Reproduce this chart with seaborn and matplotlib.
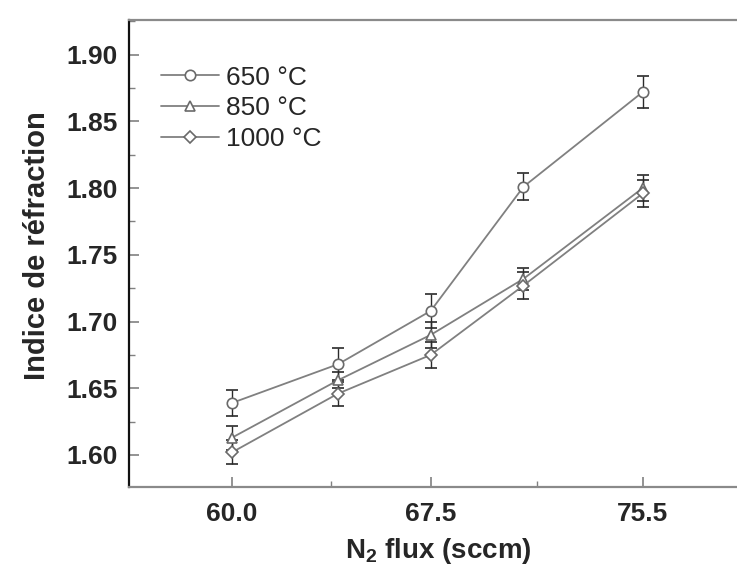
# refractive index vs N2 flux for three annealing temperatures
import matplotlib
matplotlib.use("Agg")
import matplotlib.pyplot as plt
from matplotlib.ticker import MultipleLocator, FixedLocator
import seaborn as sns

# %% data

flux_sccm = [60.0, 64.0, 67.5, 71.0, 75.5]

n_650 = [1.639, 1.668, 1.708, 1.801, 1.872]
err_650 = [0.010, 0.012, 0.013, 0.010, 0.012]

n_850 = [1.613, 1.656, 1.690, 1.732, 1.800]
err_850 = [0.009, 0.006, 0.010, 0.008, 0.010]

n_1000 = [1.602, 1.646, 1.675, 1.727, 1.796]
err_1000 = [0.009, 0.009, 0.010, 0.010, 0.010]

series_labels = ["650 °C", "850 °C", "1000 °C"]
x_ticks = [60.0, 67.5, 75.5]
y_ticks = [1.60, 1.65, 1.70, 1.75, 1.80, 1.85, 1.90]

# %% style

sns.set_style("ticks")
plt.rcParams["font.family"] = ["Liberation Sans", "DejaVu Sans"]
plt.rcParams["mathtext.fontset"] = "custom"
plt.rcParams["mathtext.rm"] = "Liberation Sans:bold"
plt.rcParams["mathtext.bf"] = "Liberation Sans:bold"
plt.rcParams["mathtext.it"] = "Liberation Sans:bold"

fig = plt.figure(figsize=(7.37, 5.69), dpi=100)
ax = fig.add_axes([0.175, 0.1441, 0.825, 0.8208])

line_color = "#808080"
bar_color = "#2a2a2a"

series = [
    (n_650, err_650, "o", 7.5),
    (n_850, err_850, "^", 7.5),
    (n_1000, err_1000, "D", 6.0),
]

# error bars first, so the open markers sit on top
for (vals, errs, _m, _s) in series:
    ax.errorbar(flux_sccm, vals, yerr=errs, fmt="none",
                ecolor=bar_color, elinewidth=1.0, capsize=4,
                capthick=1.2, zorder=2)

for (vals, errs, mk, ms), lab in zip(series, series_labels):
    sns.lineplot(x=flux_sccm, y=vals, ax=ax, label=lab,
                 color=line_color, linewidth=1.3,
                 marker=mk, markersize=ms,
                 markerfacecolor="white", markeredgecolor="#6a6a6a",
                 markeredgewidth=1.2, zorder=3)

# %% axes

ax.set_xlim(56.11, 79.06)
ax.set_ylim(1.576, 1.926)

ax.xaxis.set_major_locator(FixedLocator(x_ticks))
ax.xaxis.set_minor_locator(FixedLocator([63.75, 71.5]))
ax.set_xticklabels(["%.1f" % t for t in x_ticks])
ax.yaxis.set_major_locator(FixedLocator(y_ticks))
ax.yaxis.set_minor_locator(MultipleLocator(0.025))
ax.set_yticklabels(["%.2f" % t for t in y_ticks])

ax.tick_params(which="both", direction="in", color="#808080")
ax.tick_params(which="major", length=7, width=1.2, pad=8)
ax.tick_params(axis="x", which="major", pad=11)
ax.tick_params(which="minor", length=4, width=1.0)
for _lbl in ax.get_xticklabels() + ax.get_yticklabels():
    _lbl.set_fontsize(19)
    _lbl.set_fontweight("bold")

ax.spines["right"].set_visible(False)
ax.spines["left"].set_color("#111111")
ax.spines["left"].set_linewidth(1.6)
for _s in ["top", "bottom"]:
    ax.spines[_s].set_color("#8a8a8a")
    ax.spines[_s].set_linewidth(1.6)

ax.set_xlabel("N$_{2}$ flux (sccm)", fontsize=20, fontweight="bold")
ax.set_ylabel("Indice de réfraction", fontsize=21, fontweight="bold")
ax.xaxis.set_label_coords(0.508, -0.105)
ax.yaxis.set_label_coords(-0.128, 0.516)

ax.legend(loc="upper left", bbox_to_anchor=(0.036, 0.925),
          frameon=False, fontsize=19, handlelength=2.2,
          handletextpad=0.25, labelspacing=0.25, borderaxespad=0)

plt.savefig("out.png", dpi=100)
